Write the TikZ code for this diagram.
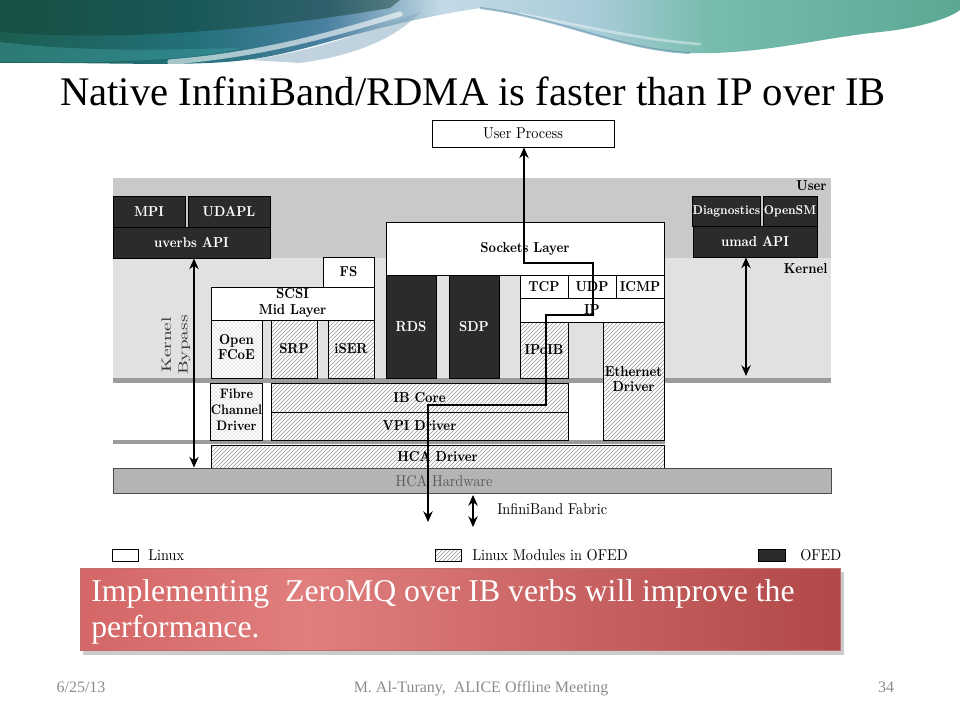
\documentclass[tikz,border=0pt]{standalone}
\usepackage{fontspec}
\newfontfamily\slidefont{Liberation Serif}
\usetikzlibrary{patterns,arrows.meta}
\definecolor{ofed}{HTML}{2B2B2B}
\definecolor{userband}{HTML}{C9C9C9}
\definecolor{kernband}{HTML}{E1E1E1}
\definecolor{sepline}{HTML}{9B9B9B}
\definecolor{hwfill}{HTML}{B4B4B4}
\definecolor{foot}{HTML}{8C8C8C}
\definecolor{wA}{HTML}{1C5E50}
\definecolor{wB}{HTML}{22707A}
\definecolor{wC}{HTML}{4A80A0}
\definecolor{wD}{HTML}{C4DAE6}
\definecolor{wE}{HTML}{A8CCD8}
\definecolor{wF}{HTML}{78BCAE}
\definecolor{wG}{HTML}{5AA894}
\definecolor{bA}{HTML}{D46666}
\definecolor{bB}{HTML}{E07E7E}
\definecolor{bC}{HTML}{B24848}
\pgfdeclarehorizontalshading{wave}{100bp}{color(0bp)=(wA); color(25bp)=(wA); color(35bp)=(wB); color(42bp)=(wC); color(48bp)=(wD); color(56bp)=(wE); color(62bp)=(wF); color(75bp)=(wG); color(100bp)=(wG)}
\pgfdeclarehorizontalshading{banner}{100bp}{color(0bp)=(bA); color(25bp)=(bA); color(40bp)=(bB); color(75bp)=(bC); color(100bp)=(bC)}
\tikzset{
  lab/.style={font=\fontsize{9.4}{11.5}\selectfont\bfseries, inner sep=0pt, line width=0.7pt},
  lin/.style={lab, draw=black, fill=white},
  ofd/.style={lab, draw=black, fill=ofed, text=white},
  mod/.style={lab, draw=black, preaction={fill=white}, pattern=north east lines, pattern color=gray!80},
  dts/.style={lab, draw=black, preaction={fill=white}, pattern=crosshatch dots, pattern color=gray!75},
  arr/.style={line width=1.1pt, {Stealth[length=8pt,width=7pt]}-{Stealth[length=8pt,width=7pt]}},
  reg/.style={font=\fontsize{10.7}{12.5}\selectfont, inner sep=0pt},
}
\newcommand\sy[1]{\scalebox{1}[1.15]{#1}}
\newcommand\tb[1]{\begin{tabular}{@{}c@{}}#1\end{tabular}}
\newcommand\bx[7]{\node[#6, minimum width={(#4-#2)*0.75pt}, minimum height={(#5-#3)*0.75pt}] (#1) at ({(#2+#4)/2},{(#3+#5)/2}) {#7};}
\begin{document}
\begin{tikzpicture}[x=0.75pt,y=-0.75pt]
\useasboundingbox (0,0) rectangle (960,720);
\fill[white] (0,0) rectangle (960,720);
% header wave
\shade[shading=wave] (0,0) -- (0,63) .. controls (120,62) and (200,68) .. (260,58)
  .. controls (320,48) and (370,25) .. (480,8)
  .. controls (560,18) and (620,50) .. (690,53)
  .. controls (760,55) and (820,38) .. (880,32)
  .. controls (920,28) and (950,18) .. (960,10) -- (960,0) -- cycle;
\fill[wA!70!black, opacity=0.5] (0,0) -- (0,32) .. controls (120,42) and (260,30) .. (390,8) -- (400,0) -- cycle;
\fill[teal!75!white, opacity=0.45] (0,42) .. controls (80,52) and (160,50) .. (240,48) .. controls (200,60) and (100,64) .. (0,62) -- cycle;
\fill[wC!70!white, opacity=0.5] (250,60) .. controls (320,50) and (370,30) .. (420,12) .. controls (400,35) and (360,55) .. (300,63) -- cycle;
\draw[white, line width=4pt, opacity=0.6, line cap=round] (170,62) .. controls (260,55) and (330,35) .. (400,14);
\draw[white, line width=2pt, opacity=0.4, line cap=round] (520,14) .. controls (580,25) and (640,40) .. (700,44);
\draw[wC, line width=1.5pt, opacity=0.5] (480,8) .. controls (560,18) and (620,50) .. (690,53);
% title
\node[font=\slidefont\fontsize{30.5}{34}\selectfont, anchor=base west, inner sep=0pt] (title) at (60,106) {Native InfiniBand/RDMA is faster than IP over IB};
% bands
\fill[userband] (113,178) rectangle (831,258);
\fill[kernband] (113,258) rectangle (831,378);
\fill[sepline] (113,378) rectangle (831,383);
\fill[sepline] (113,440) rectangle (665,444);
\node[lab, anchor=base east] (userlbl) at (827,191) {\sy{User}};
\node[lab, anchor=base east] (kernlbl) at (828,274) {\sy{Kernel}};
% user process
\bx{up}{432}{120}{614}{147}{lin, reg}{\scalebox{1}[1.1]{User Process}}
% left stack
\bx{mpi}{113}{196}{185}{227}{ofd}{\sy{MPI}}
\bx{udapl}{188}{196}{270}{227}{ofd}{\sy{UDAPL}}
\bx{uverbs}{113}{227}{270}{258}{ofd}{\sy{uverbs API}}
\bx{fs}{323}{257}{374}{287}{lin}{\sy{FS}}
\bx{scsi}{211}{287}{374}{320}{lin}{\tb{\sy{SCSI}\\\sy{Mid Layer}}}
\bx{fcoe}{211}{320}{262}{378}{dts}{\tb{\sy{Open}\\\sy{FCoE}}}
\bx{srp}{271}{320}{317}{378}{mod}{\sy{SRP}}
\bx{iser}{328}{320}{374}{378}{mod}{\sy{iSER}}
% middle
\bx{sock}{386}{222}{664}{275}{lin}{\sy{Sockets Layer}}
\bx{rds}{386}{275}{436}{378}{ofd}{\sy{RDS}}
\bx{sdp}{449}{275}{499}{378}{ofd}{\sy{SDP}}
\bx{tcp}{520}{275}{568}{298}{lin}{\sy{TCP}}
\bx{udp}{568}{275}{616}{298}{lin}{\sy{UDP}}
\bx{icmp}{616}{275}{664}{298}{lin}{\sy{ICMP}}
\bx{ip}{520}{298}{664}{322}{lin}{\sy{IP}}
\bx{ipoib}{520}{322}{568}{378}{mod}{\sy{IPoIB}}
\bx{eth}{603}{322}{664}{440}{mod}{\tb{\sy{Ethernet}\\\sy{Driver}}}
% lower
\bx{fibre}{211}{383}{262}{440}{dts, font=\fontsize{9}{12}\selectfont\bfseries}{\tb{\sy{Fibre}\\\sy{Channel}\\\sy{Driver}}}
\bx{ibcore}{271}{383}{568}{412}{mod}{\sy{IB Core}}
\bx{vpi}{271}{412}{568}{440}{mod}{\sy{VPI Driver}}
\bx{hcadrv}{211}{445}{664}{468}{mod}{\sy{HCA Driver}}
\bx{hcahw}{113}{468}{831}{493}{draw=black!70, line width=0.7pt, fill=hwfill, inner sep=0pt}{}
\node[reg, text=black!65, font=\fontsize{10.7}{12}\selectfont] (hcatxt) at (444,481) {\scalebox{1}[1.1]{HCA Hardware}};
% right
\bx{diag}{693}{196}{760}{226}{ofd, font=\fontsize{8.3}{10}\selectfont\bfseries}{\sy{Diagnostics}}
\bx{osm}{763}{196}{817}{226}{ofd, font=\fontsize{8.3}{10}\selectfont\bfseries}{\sy{OpenSM}}
\bx{umad}{693}{226}{817}{257}{ofd}{\sy{umad API}}
% kernel bypass
\node[inner sep=0pt, rotate=90, text=black!80, align=center, font=\fontsize{10}{12.5}\selectfont] (kb) at (176,345) {\scalebox{1.45}[1]{Kernel}\\\scalebox{1.45}[1]{Bypass}};
% arrows
\coordinate (kbx) at (194,0);
\draw[arr] (uverbs.south -| kbx) -- (hcahw.north -| kbx);
\coordinate (rx) at (746,376);
\draw[arr] (umad.south -| rx) -- (rx);
\coordinate (fa) at (473,495);
\coordinate (fb) at (473,527);
\draw[arr] (fa) -- (fb);
\node[reg, anchor=west] (fabric) at (497,509) {\scalebox{1}[1.1]{InfiniBand Fabric}};
\coordinate (p0) at (428,522);
\coordinate (p1) at (546,405);
\coordinate (p2) at (593,315);
\coordinate (p3) at (524,263);
\draw[arr] (p0) |- (p1) |- (p2) |- (p3) -- (p3 |- up.south);
% legend
\node[draw=black, line width=0.6pt, fill=white, minimum width=19pt, minimum height=9pt, inner sep=0pt] (lg1) at (125.5,555) {};
\node[reg, anchor=west] (lg1t) at (148,555) {\scalebox{1}[1.1]{Linux}};
\node[draw=black, line width=0.6pt, preaction={fill=white}, pattern=north east lines, pattern color=gray!80, minimum width=20pt, minimum height=9pt, inner sep=0pt] (lg2) at (448.5,555) {};
\node[reg, anchor=west] (lg2t) at (472,555) {\scalebox{1}[1.1]{Linux Modules in OFED}};
\node[draw=black, line width=0.6pt, fill=ofed, minimum width=20pt, minimum height=9pt, inner sep=0pt] (lg3) at (772,555) {};
\node[reg, anchor=west] (lg3t) at (800,555) {\scalebox{1}[1.1]{OFED}};
% banner
\fill[black, opacity=0.2] (83,572) rectangle (844,655);
\shade[shading=banner, draw=bC!80!white, line width=0.5pt] (80,568) rectangle (840,650);
\node[font=\slidefont\fontsize{23.8}{28}\selectfont, text=white, anchor=base west, inner sep=0pt] (b1) at (91,601) {Implementing\ \ ZeroMQ over IB verbs will improve the};
\node[font=\slidefont\fontsize{23.8}{28}\selectfont, text=white, anchor=base west, inner sep=0pt] (b2) at (91,637) {performance.};
% footer
\node[font=\slidefont\fontsize{12}{14}\selectfont, text=foot, anchor=base] (f1) at (81,692) {6/25/13};
\node[font=\slidefont\fontsize{12}{14}\selectfont, text=foot, anchor=base] (f2) at (481,692) {M. Al-Turany,\ \ ALICE Offline Meeting};
\node[font=\slidefont\fontsize{12}{14}\selectfont, text=foot, anchor=base] (f3) at (886,692) {34};
\end{tikzpicture}
\end{document}
